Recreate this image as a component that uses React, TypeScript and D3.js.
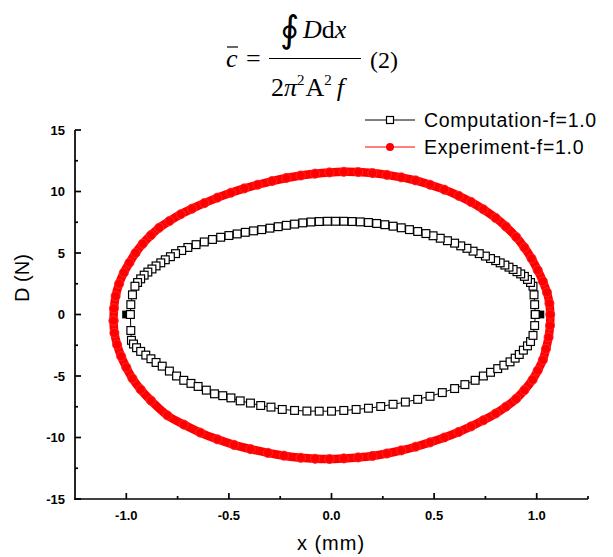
import React from "react";
import * as d3 from "d3";

// Computation loop (x in mm, D in N)
const compX = [
  0.993, 0.99, 0.987, 0.982, 0.97, 0.955, 0.94, 0.922, 0.904, 0.885, 0.865, 0.845, 0.822, 0.8, 0.775, 0.75,
  0.72, 0.69, 0.66, 0.63, 0.6, 0.565, 0.53, 0.495, 0.46, 0.42, 0.38, 0.34, 0.3, 0.26, 0.22, 0.18, 0.14, 0.1,
  0.06, 0.02, -0.02, -0.06, -0.1, -0.14, -0.18, -0.22, -0.26, -0.3, -0.34, -0.38, -0.42, -0.46, -0.5, -0.54,
  -0.58, -0.62, -0.66, -0.7, -0.73, -0.76, -0.785, -0.81, -0.832, -0.855, -0.875, -0.895, -0.913, -0.93,
  -0.945, -0.958, -0.97, -0.978, -0.98,
  -0.978, -0.975, -0.965, -0.95, -0.93, -0.905, -0.88, -0.855, -0.825, -0.79, -0.755, -0.72, -0.685, -0.65,
  -0.61, -0.57, -0.53, -0.49, -0.445, -0.395, -0.345, -0.295, -0.24, -0.18, -0.12, -0.06, 0.0, 0.06, 0.12,
  0.18, 0.24, 0.3, 0.36, 0.42, 0.48, 0.54, 0.6, 0.65, 0.7, 0.74, 0.775, 0.81, 0.84, 0.87, 0.895, 0.915,
  0.935, 0.955, 0.97, 0.982, 0.99, 0.993,
];
const compY = [
  0.0, 0.8, 1.6, 2.3, 2.6, 2.85, 3.1, 3.3, 3.48, 3.66, 3.85, 4.02, 4.2, 4.38, 4.55, 4.75,
  4.95, 5.15, 5.38, 5.58, 5.8, 6.0, 6.2, 6.4, 6.58, 6.75, 6.9, 7.05, 7.18, 7.3, 7.4, 7.48, 7.53, 7.56,
  7.58, 7.58, 7.58, 7.56, 7.52, 7.45, 7.35, 7.25, 7.14, 7.02, 6.9, 6.8, 6.68, 6.55, 6.42, 6.28,
  6.1, 5.9, 5.68, 5.45, 5.2, 4.95, 4.7, 4.45, 4.2, 3.95, 3.7, 3.45, 3.2, 2.9,
  2.6, 2.3, 1.6, 0.8, 0.0,
  -1.3, -2.1, -2.4, -2.7, -3.0, -3.3, -3.6, -3.9, -4.2, -4.6, -5.0, -5.35, -5.6, -5.85,
  -6.15, -6.45, -6.6, -6.78, -7.02, -7.2, -7.4, -7.53, -7.72, -7.8, -7.85, -7.86, -7.86, -7.8, -7.72,
  -7.62, -7.48, -7.3, -7.12, -6.9, -6.65, -6.35, -6.02, -5.7, -5.35, -5.0, -4.7, -4.4, -4.12, -3.85, -3.55, -3.25,
  -2.9, -2.55, -2.2, -1.7, -0.9, 0.0,
];
// filled squares partly hidden at the loop ends
const compEndX = [-1.001, 1.018];
const compEndY = [0, 0];

// Experiment loop
const expX = [
  -1.062, -1.06, -1.052, -1.035, -1.012, -0.985, -0.955, -0.92, -0.88, -0.84, -0.79, -0.735, -0.68, -0.62,
  -0.556, -0.49, -0.425, -0.36, -0.29, -0.22, -0.15, -0.08, -0.01, 0.06, 0.13, 0.2, 0.27, 0.34, 0.41, 0.48,
  0.55, 0.62, 0.68, 0.74, 0.8, 0.85, 0.9, 0.94, 0.975, 1.005, 1.03, 1.05, 1.062, 1.066,
  1.065, 1.058, 1.045, 1.03, 1.005, 0.98, 0.94, 0.9, 0.85, 0.8, 0.74, 0.68, 0.62, 0.55, 0.48, 0.41, 0.34,
  0.27, 0.2, 0.13, 0.06, -0.01, -0.08, -0.15, -0.232, -0.31, -0.394, -0.475, -0.556, -0.64, -0.72, -0.8,
  -0.88, -0.93, -0.97, -1.0, -1.025, -1.045, -1.058, -1.062,
];
const expY = [
  -0.5, 0.5, 1.5, 2.5, 3.4, 4.2, 5.0, 5.75, 6.45, 7.05, 7.6, 8.15, 8.6, 9.05,
  9.5, 9.9, 10.25, 10.55, 10.85, 11.1, 11.3, 11.45, 11.55, 11.6, 11.58, 11.5, 11.35, 11.15, 10.9, 10.55,
  10.15, 9.65, 9.15, 8.55, 7.85, 7.15, 6.3, 5.45, 4.55, 3.6, 2.7, 1.8, 0.9, 0.0,
  -0.9, -1.85, -2.8, -3.7, -4.55, -5.3, -6.15, -6.85, -7.5, -8.05, -8.6, -9.1, -9.55, -10.0, -10.4, -10.75, -11.05,
  -11.3, -11.5, -11.62, -11.7, -11.75, -11.73, -11.65, -11.48, -11.25, -10.95, -10.6, -10.15, -9.6, -8.95, -8.2,
  -7.0, -6.1, -5.2, -4.3, -3.4, -2.45, -1.5, -0.5,
];

const xTicks = [-1.0, -0.5, 0.0, 0.5, 1.0];
const xMinor = [-0.75, -0.25, 0.25, 0.75, 1.25];
const yTicks = [-15, -10, -5, 0, 5, 10, 15];
const yMinor = [-12.5, -7.5, -2.5, 2.5, 7.5, 12.5];
const legendLabels = ["Computation-f=1.0", "Experiment-f=1.0"];

const W = 613;
const H = 557;
const sans = "'Liberation Sans', Arial, sans-serif";
const serif = "'Liberation Serif', 'Times New Roman', serif";

export default function App() {
  const x = d3.scaleLinear().domain([-1.25, 1.25]).range([75, 588]);
  const y = d3.scaleLinear().domain([-15, 15]).range([499, 130]);

  const comp = compX.map((v, i) => [v, compY[i]] as [number, number]);
  const exp = expX.map((v, i) => [v, expY[i]] as [number, number]);
  const line = d3
    .line<[number, number]>()
    .x((d) => x(d[0]))
    .y((d) => y(d[1]));
  const smooth = d3
    .line<[number, number]>()
    .x((d) => x(d[0]))
    .y((d) => y(d[1]))
    .curve(d3.curveCatmullRom);

  const sq = 7.8;

  return (
    <div style={{ position: "absolute", left: 0, top: 0 }}>
      <svg width={W} height={H} style={{ display: "block", background: "#fff" }}>
        {/* formula */}
        <g fontFamily={serif} fill="#000">
          <text x={226} y={67} fontSize={26} fontStyle="italic">c</text>
          <line x1={227} x2={238} y1={47} y2={47} stroke="#000" strokeWidth={1.2} />
          <text x={246} y={67} fontSize={26}>=</text>
          <text x={280} y={42} fontSize={37}>∮</text>
          <text x={303} y={38} fontSize={26}>
            <tspan fontStyle="italic">D</tspan>
            <tspan>d</tspan>
            <tspan fontStyle="italic">x</tspan>
          </text>
          <line x1={269} x2={361} y1={58.5} y2={58.5} stroke="#000" strokeWidth={1.2} />
          <text x={271} y={96} fontSize={26}>
            <tspan>2</tspan>
            <tspan fontStyle="italic">π</tspan>
            <tspan fontSize={15} dy={-11}>2</tspan>
            <tspan dy={11} dx={1}>A</tspan>
            <tspan fontSize={15} dy={-11}>2</tspan>
            <tspan dy={11} dx={5} fontStyle="italic">f</tspan>
          </text>
          <text x={370} y={68} fontSize={24}>(2)</text>
        </g>

        {/* axes */}
        <g stroke="#000" strokeWidth={1.7} fill="none">
          <line x1={x(-1.25)} x2={x(-1.25)} y1={y(15)} y2={y(-15) + 0.85} />
          <line x1={x(-1.25) - 0.85} x2={x(1.25)} y1={y(-15)} y2={y(-15)} />
          {xTicks.map((t) => (
            <line key={"xt" + t} x1={x(t)} x2={x(t)} y1={y(-15)} y2={y(-15) - 6} />
          ))}
          {xMinor.map((t) => (
            <line key={"xm" + t} x1={x(t)} x2={x(t)} y1={y(-15)} y2={y(-15) - 3} />
          ))}
          {yTicks.map((t) => (
            <line key={"yt" + t} x1={x(-1.25)} x2={x(-1.25) + 6} y1={y(t)} y2={y(t)} />
          ))}
          {yMinor.map((t) => (
            <line key={"ym" + t} x1={x(-1.25)} x2={x(-1.25) + 3} y1={y(t)} y2={y(t)} />
          ))}
        </g>
        <g fontFamily={sans} fontWeight="bold" fontSize={13} fill="#000">
          {xTicks.map((t) => (
            <text key={"xl" + t} x={x(t)} y={520} textAnchor="middle">
              {d3.format(".1f")(t).replace("−", "-")}
            </text>
          ))}
          {yTicks.map((t) => (
            <text key={"yl" + t} x={65} y={y(t) + 4.5} textAnchor="end">
              {String(t)}
            </text>
          ))}
        </g>
        <text
          transform="translate(29,278) rotate(-90)"
          textAnchor="middle"
          fontFamily={sans}
          fontSize={20}
        >
          D (N)
        </text>
        <text x={331} y={550} textAnchor="middle" fontFamily={sans} fontSize={20} letterSpacing={1}>
          x (mm)
        </text>

        {/* computation */}
        <path d={line(comp) ?? ""} fill="none" stroke="#000" strokeWidth={1} />
        {compEndX.map((v, i) => (
          <rect key={"ce" + i} x={x(v) - sq / 2} y={y(compEndY[i]) - sq / 2} width={sq} height={sq} fill="#000" />
        ))}
        {comp.map((d, i) => (
          <rect
            key={"c" + i}
            x={x(d[0]) - sq / 2}
            y={y(d[1]) - sq / 2}
            width={sq}
            height={sq}
            fill="#fff"
            stroke="#000"
            strokeWidth={1.2}
          />
        ))}

        {/* experiment */}
        <path d={smooth(exp) ?? ""} fill="none" stroke="#ff0000" strokeWidth={8.5} strokeLinejoin="round" />
        {exp.map((d, i) => (
          <circle key={"e" + i} cx={x(d[0])} cy={y(d[1])} r={4.6} fill="#ff0000" stroke="#ff3030" strokeWidth={0.8} />
        ))}

        {/* legend */}
        <g fontFamily={sans} fontSize={19.5} letterSpacing={0.7}>
          <line x1={365} x2={415} y1={120} y2={120} stroke="#000" strokeWidth={1} />
          <rect x={390 - 3.5} y={120 - 3.5} width={7} height={7} fill="#fff" stroke="#000" strokeWidth={1.2} />
          <text x={424} y={127}>{legendLabels[0]}</text>
          <line x1={365} x2={415} y1={147} y2={147} stroke="#ff0000" strokeWidth={1} />
          <circle cx={390} cy={147} r={4} fill="#ff0000" />
          <text x={424} y={154}>{legendLabels[1]}</text>
        </g>
      </svg>
    </div>
  );
}
